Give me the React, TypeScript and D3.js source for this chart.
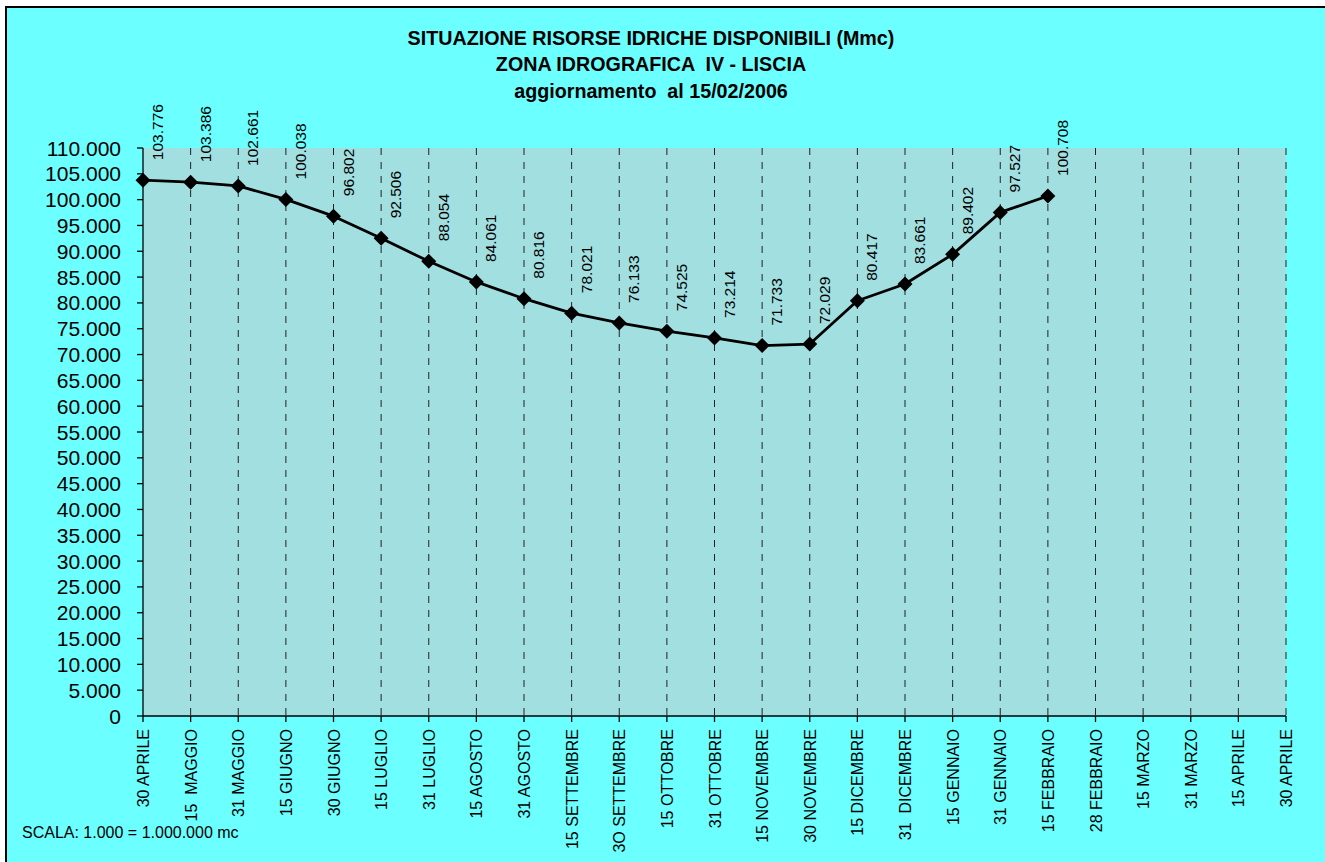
import * as d3 from "d3";

const categories = [
  "30 APRILE", "15  MAGGIO", "31 MAGGIO", "15 GIUGNO", "30 GIUGNO", "15 LUGLIO",
  "31 LUGLIO", "15 AGOSTO", "31 AGOSTO", "15 SETTEMBRE", "3O SETTEMBRE", "15 OTTOBRE",
  "31 OTTOBRE", "15 NOVEMBRE", "30 NOVEMBRE", "15 DICEMBRE", "31  DICEMBRE", "15 GENNAIO",
  "31 GENNAIO", "15 FEBBRAIO", "28 FEBBRAIO", "15 MARZO", "31 MARZO", "15 APRILE", "30 APRILE",
];

// volumes (x1000 mc), one per date up to 15 FEBBRAIO
const volumes = [
  103776, 103386, 102661, 100038, 96802, 92506, 88054, 84061, 80816, 78021,
  76133, 74525, 73214, 71733, 72029, 80417, 83661, 89402, 97527, 100708,
];

const titleLines = [
  "SITUAZIONE RISORSE IDRICHE DISPONIBILI (Mmc)",
  "ZONA IDROGRAFICA  IV - LISCIA",
  "aggiornamento  al 15/02/2006",
];

const yTicks = d3.range(0, 110001, 5000);

const W = 1325;
const H = 862;
const margin = { left: 143, right: 39, top: 148, bottom: 146 };
const font = "Arial, 'Liberation Sans', sans-serif";

const it = d3.formatLocale({ decimal: ",", thousands: ".", grouping: [3], currency: ["€", ""] });
const fmt = it.format(",");

export default function App() {
  const x = d3
    .scalePoint<number>()
    .domain(d3.range(categories.length))
    .range([margin.left, W - margin.right])
    .padding(0);
  const y = d3.scaleLinear().domain([0, 110000]).range([H - margin.bottom, margin.top]);

  const line = d3
    .line<number>()
    .x((_, i) => x(i)!)
    .y((d) => y(d));

  const x0 = margin.left;
  const x1 = W - margin.right;
  const y0 = y(0);
  const yTop = y(110000);

  return (
    <div>
      <style>{"body{margin:0}"}</style>
      <svg width={W} height={H} fontFamily={font}>
        <rect x={0} y={0} width={W} height={H} fill="#fff" />
        <rect x={6} y={7} width={W + 10} height={H + 10} fill="#6bffff" stroke="#000" strokeWidth={2} />

        {titleLines.map((t, i) => (
          <text
            key={i}
            x={651}
            y={45 + i * 26.3}
            textAnchor="middle"
            fontSize={19.7}
            fontWeight="bold"
            style={{ whiteSpace: "pre" }}
          >
            {t}
          </text>
        ))}

        {/* plot area */}
        <rect x={x0} y={yTop} width={x1 - x0} height={y0 - yTop} fill="#a2dfe0" />

        {/* dashed verticals */}
        {categories.map((_, i) =>
          i === 0 ? null : (
            <line
              key={i}
              x1={x(i)}
              x2={x(i)}
              y1={yTop}
              y2={y0}
              stroke="#222"
              strokeWidth={1}
              strokeDasharray="7,7"
            />
          )
        )}

        {/* y axis */}
        <line x1={x0} x2={x0} y1={yTop} y2={y0} stroke="#000" strokeWidth={1.3} />
        {yTicks.map((t) => (
          <g key={t}>
            <line x1={x0 - 6} x2={x0} y1={y(t)} y2={y(t)} stroke="#000" strokeWidth={1.3} />
            <text x={121} y={y(t)} dy="0.36em" textAnchor="end" fontSize={21}>
              {fmt(t)}
            </text>
          </g>
        ))}

        {/* x axis */}
        <line x1={x0} x2={x1} y1={y0} y2={y0} stroke="#000" strokeWidth={1.3} />
        {categories.map((c, i) => (
          <g key={i}>
            <line x1={x(i)} x2={x(i)} y1={y0} y2={y0 + 6} stroke="#000" strokeWidth={1.3} />
            <text
              transform={`translate(${x(i)! + 6},${729}) rotate(-90)`}
              textAnchor="end"
              fontSize={16}
              style={{ whiteSpace: "pre" }}
            >
              {c}
            </text>
          </g>
        ))}

        {/* series */}
        <path d={line(volumes)!} fill="none" stroke="#000" strokeWidth={2.8} strokeLinejoin="round" />
        {volumes.map((v, i) => (
          <g key={i}>
            <path
              d="M0,-7.5L7.5,0L0,7.5L-7.5,0Z"
              transform={`translate(${x(i)},${y(v)})`}
              fill="#000"
            />
            <text
              transform={`translate(${x(i)! + 20},${y(v) - 20}) rotate(-90)`}
              fontSize={15.5}
            >
              {fmt(v)}
            </text>
          </g>
        ))}

        <text x={22} y={838} fontSize={16}>
          SCALA: 1.000 = 1.000.000 mc
        </text>
      </svg>
    </div>
  );
}
